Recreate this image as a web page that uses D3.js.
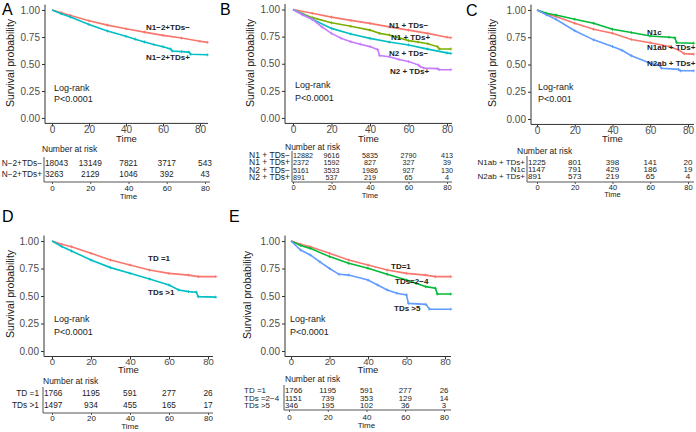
<!DOCTYPE html>
<html><head><meta charset="utf-8">
<script src="https://cdn.jsdelivr.net/npm/d3@7"></script>
<style>
body{margin:0;background:#fff}
text{font-family:"Liberation Sans",Arial,Helvetica,sans-serif}
</style>
</head><body>
<svg id="c" width="696" height="432"></svg>
<script>
// ---------------- DATA ----------------
const xTicks = [0, 20, 40, 60, 80];
const yTicks = [0, 0.25, 0.5, 0.75, 1];
const riskTimes = [0, 20, 40, 60, 80];

// Panel A
const aCurveNames = ["N1−2+TDs−", "N1−2+TDs+"];
const aTableNames = ["N−2+TDs−", "N−2+TDs+"];
const aNeg = [[0,1],[5,0.975],[10,0.95],[20,0.9],[30,0.86],[40,0.826],[50,0.795],[60,0.765],[70,0.74],[80,0.71],[84,0.70]];
const aPos = [[0,1],[5,0.965],[10,0.935],[20,0.866],[30,0.805],[40,0.756],[45,0.73],[50,0.704],[55,0.68],[60,0.66],[64,0.64],[65,0.62],[70,0.615],[74,0.61],[75,0.59],[84,0.585]];
const aRiskNeg = [18043, 13149, 7821, 3717, 543];
const aRiskPos = [3263, 2129, 1046, 392, 43];
const aP = "P<0.0001";

// Panel B
const bCurveNames = ["N1 + TDs−", "N1 + TDs+", "N2 + TDs−", "N2 + TDs+"];
const bTableNames = ["N1 + TDs−", "N1 + TDs+", "N2 + TDs−", "N2 + TDs+"];
const bN1Neg = [[0,1],[10,0.965],[20,0.93],[30,0.9],[40,0.872],[50,0.84],[60,0.81],[70,0.78],[80,0.745],[82,0.74]];
const bN1Pos = [[0,1],[5,0.96],[10,0.925],[20,0.878],[30,0.845],[40,0.81],[45,0.78],[50,0.765],[55,0.74],[60,0.713],[65,0.70],[70,0.685],[75,0.658],[76,0.636],[82,0.636]];
const bN2Neg = [[0,1],[5,0.955],[10,0.91],[20,0.826],[30,0.775],[40,0.734],[50,0.70],[60,0.673],[70,0.635],[80,0.60],[82,0.595]];
const bN2Pos = [[0,1],[5,0.95],[10,0.91],[15,0.84],[20,0.78],[25,0.735],[30,0.703],[35,0.68],[40,0.658],[44,0.63],[45,0.575],[50,0.565],[55,0.54],[60,0.52],[65,0.49],[66,0.475],[68,0.46],[75,0.455],[76,0.445],[82,0.445]];
const bRiskN1Neg = [12882, 9616, 5835, 2790, 413];
const bRiskN1Pos = [2372, 1592, 827, 327, 39];
const bRiskN2Neg = [5161, 3533, 1986, 927, 130];
const bRiskN2Pos = [891, 537, 219, 65, 4];
const bP = "P<0.0001";

// Panel C
const cCurveNames = ["N1ab + TDs+", "N1c", "N2ab + TDs+"];
const cTableNames = ["N1ab + TDs+", "N1c", "N2ab + TDs+"];
const cN1ab = [[0,1],[5,0.96],[10,0.94],[20,0.878],[30,0.823],[40,0.787],[50,0.73],[60,0.70],[70,0.665],[75,0.634],[78,0.60],[83,0.595]];
const cN1c = [[0,1],[5,0.97],[10,0.954],[20,0.915],[30,0.878],[40,0.823],[50,0.793],[60,0.762],[70,0.75],[73,0.745],[74,0.70],[83,0.695]];
const cN2ab = [[0,1],[5,0.955],[10,0.915],[20,0.81],[30,0.726],[40,0.665],[45,0.63],[50,0.58],[60,0.512],[65,0.49],[66,0.466],[75,0.455],[76,0.442],[83,0.442]];
const cRiskN1ab = [1225, 801, 398, 141, 20];
const cRiskN1c = [1147, 791, 429, 186, 19];
const cRiskN2ab = [891, 573, 219, 65, 4];
const cP = "P<0.001";

// Panel D
const dCurveNames = ["TD =1", "TDs >1"];
const dTableNames = ["TD =1", "TDs >1"];
const dTD1 = [[0,1],[5,0.97],[10,0.948],[20,0.888],[30,0.827],[40,0.782],[50,0.736],[60,0.706],[70,0.69],[75,0.676],[84,0.676]];
const dTDgt1 = [[0,1],[5,0.95],[10,0.909],[20,0.827],[30,0.758],[40,0.706],[50,0.655],[60,0.60],[65,0.555],[70,0.54],[74,0.535],[75,0.494],[84,0.49]];
const dRiskTD1 = [1766, 1195, 591, 277, 26];
const dRiskTDgt1 = [1497, 934, 455, 165, 17];
const dP = "P<0.0001";

// Panel E
const eCurveNames = ["TD=1", "TDs=2−4", "TDs >5"];
const eTableNames = ["TD =1", "TDs =2−4", "TDs >5"];
const eTD1 = [[0,1],[5,0.97],[10,0.948],[20,0.888],[30,0.827],[40,0.782],[50,0.736],[60,0.706],[70,0.69],[75,0.676],[83,0.676]];
const eTD24 = [[0,1],[5,0.96],[10,0.933],[20,0.858],[30,0.797],[40,0.752],[50,0.697],[60,0.645],[65,0.615],[70,0.585],[75,0.57],[76,0.518],[83,0.518]];
const eTD5 = [[0,1],[5,0.918],[10,0.873],[15,0.81],[20,0.75],[25,0.697],[30,0.69],[40,0.645],[45,0.60],[50,0.555],[55,0.525],[60,0.51],[61,0.433],[70,0.424],[72,0.38],[83,0.38]];
const eRiskTD1 = [1766, 1195, 591, 277, 26];
const eRiskTD24 = [1151, 739, 353, 129, 14];
const eRiskTD5 = [346, 195, 102, 36, 3];
const eP = "P<0.0001";

// ---------------- STYLE / LAYOUT ----------------
const RED = "#F8766D", CYAN = "#00BFC4", GREEN4 = "#7CAE00", PURPLE = "#C77CFF", GREEN3 = "#00BA38", BLUE = "#619CFF";
const AXIS = "#333333", TXT = "#4D4D4D", DARK = "#1a1a1a";

const svg = d3.select("#c");

function drawPanel(L, series, colors, curveNames, tableNames, risks, pText) {
  const g = svg.append("g");
  g.append("text").attr("x", L.letter[0]).attr("y", L.letter[1]).attr("font-size", 16).attr("fill", "#000").text(L.name);

  const x = d3.scaleLinear().domain([0, 80]).range([L.x0, L.x80]);
  const y = d3.scaleLinear().domain([0, 1]).range([L.y0, L.y1]);
  const top = y(1.05), bottom = y(-0.05);

  const ya = g.append("g").attr("transform", `translate(${L.ax},0)`)
    .call(d3.axisLeft(y).tickValues(yTicks).tickFormat(d3.format(".2f")).tickSize(3).tickPadding(2));
  ya.select(".domain").remove();
  ya.selectAll("line").attr("stroke", AXIS);
  ya.selectAll("text").attr("font-size", 10).attr("fill", TXT).attr("font-family", "Liberation Sans, Arial, sans-serif");
  g.append("line").attr("x1", L.ax).attr("x2", L.ax).attr("y1", top).attr("y2", bottom).attr("stroke", AXIS).attr("stroke-width", 1);

  const xa = g.append("g").attr("transform", `translate(0,${bottom})`)
    .call(d3.axisBottom(x).tickValues(xTicks).tickSize(3));
  xa.select(".domain").remove();
  xa.selectAll("line").attr("stroke", AXIS);
  xa.selectAll("text").attr("font-size", L.xfs).attr("fill", TXT).attr("font-family", "Liberation Sans, Arial, sans-serif")
    .attr("y", L.tickY - bottom).attr("dy", "0.35em");
  g.append("line").attr("x1", L.ax).attr("x2", L.xEnd).attr("y1", bottom).attr("y2", bottom).attr("stroke", AXIS);
  g.append("text").attr("x", (L.ax + L.xEnd) / 2).attr("y", L.timeY).attr("dy", "0.35em").attr("text-anchor", "middle")
    .attr("font-size", 9.5).attr("fill", DARK).text("Time");

  g.append("text").attr("transform", `translate(${L.ylab[0]},${L.ylab[1]}) rotate(-90)`).attr("text-anchor", "middle")
    .attr("dy", "0.35em").attr("font-size", 10.5).attr("fill", DARK).text("Survival probability");

  const line = d3.line().x(d => x(d[0])).y(d => y(d[1]));
  series.forEach((s, i) => {
    g.append("path").attr("d", line(s)).attr("fill", "none").attr("stroke", colors[i]).attr("stroke-width", 1.6);
    g.selectAll(null).data(s.filter(d => d[0] > 0)).enter().append("path")
      .attr("d", d => `M${x(d[0]) - 1.5},${y(d[1])}h3M${x(d[0])},${y(d[1]) - 1.5}v3`)
      .attr("stroke", colors[i]).attr("stroke-width", 0.8);
  });

  curveNames.forEach((n, i) => {
    g.append("text").attr("x", L.labels[i][0]).attr("y", L.labels[i][1]).attr("dy", "0.35em")
      .attr("font-family", "Liberation Sans Narrow, DejaVu Sans Condensed, sans-serif").attr("font-weight", "bold")
      .attr("font-size", 8).attr("fill", "#222").text(n);
  });

  g.append("text").attr("x", L.lr[0]).attr("y", L.lr[1]).attr("dy", "0.35em").attr("font-size", 9).attr("fill", "#222").text("Log-rank");
  g.append("text").attr("x", L.lr[0]).attr("y", L.lr[2]).attr("dy", "0.35em").attr("font-size", 9).attr("fill", "#222").text(pText);

  const T = L.t;
  const xt = d3.scaleLinear().domain([0, 80]).range([T.x0, T.x80]);
  g.append("text").attr("x", T.nr[0]).attr("y", T.nr[1]).attr("dy", "0.35em").attr("font-size", T.nrfs).attr("fill", "#222").text("Number at risk");
  tableNames.forEach((n, i) => {
    g.append("text").attr("x", T.labX).attr("y", T.rows[i]).attr("dy", "0.35em").attr("text-anchor", T.labAnchor)
      .attr("font-size", T.lfs).attr("fill", "#222").text(n);
    risks[i].forEach((v, j) => {
      const first = j === 0;
      g.append("text").attr("x", first ? T.ax + 1 : xt(riskTimes[j])).attr("y", T.rows[i]).attr("dy", "0.35em")
        .attr("text-anchor", first ? "start" : "middle").attr("font-size", T.fs).attr("fill", "#222").text(v);
    });
  });
  g.append("line").attr("x1", T.ax).attr("x2", T.ax).attr("y1", T.axTop).attr("y2", T.axY).attr("stroke", "#555");
  const ta = g.append("g").attr("transform", `translate(0,${T.axY})`).call(d3.axisBottom(xt).tickValues(xTicks).tickSize(2));
  ta.select(".domain").remove();
  ta.selectAll("line").attr("stroke", "#555");
  ta.selectAll("text").attr("font-size", T.tfs).attr("fill", "#222").attr("font-family", "Liberation Sans, Arial, sans-serif")
    .attr("y", T.tickY - T.axY).attr("dy", "0.35em");
  g.append("line").attr("x1", T.ax).attr("x2", T.xEnd).attr("y1", T.axY).attr("y2", T.axY).attr("stroke", "#555");
  g.append("text").attr("x", (T.x0 + T.x80) / 2).attr("y", T.timeY).attr("dy", "0.35em").attr("text-anchor", "middle")
    .attr("font-size", T.tfs).attr("fill", "#222").text("Time");
}

const LA = {name:"A", letter:[2,15], ax:45, y1:10, y0:118, x0:52, x80:200, xEnd:208, tickY:130, xfs:10, timeY:138.5, ylab:[10,63], lr:[54,88,99],
  labels:[[146,27],[146,57]],
  t:{nr:[42,149], rows:[163,174], ax:44, axTop:157, axY:182, x0:52, x80:205, xEnd:210, tickY:188.5, timeY:196.5, fs:8.3, tfs:8, lfs:8.3, nrfs:8.5, labX:42, labAnchor:"end"}};
const LB = {name:"B", letter:[220,15], ax:285, y1:9.5, y0:118, x0:293, x80:447, xEnd:452, tickY:130, xfs:10, timeY:138.5, ylab:[250,63], lr:[295,85,98],
  labels:[[389,25],[391,37],[389,53],[390,71]],
  t:{nr:[285,147], rows:[155,162.3,170,177.3], ax:292, axTop:151, axY:182, x0:293, x80:447, xEnd:452, tickY:187.5, timeY:195, fs:7.2, tfs:7.5, lfs:8.5, nrfs:8.5, labX:290, labAnchor:"end"}};
const LC = {name:"C", letter:[466,16], ax:531, y1:10, y0:119, x0:537, x80:688, xEnd:694, tickY:131, xfs:10, timeY:139, ylab:[492,63], lr:[538,87,99],
  labels:[[647,47],[647,32],[647,63]],
  t:{nr:[517,151], rows:[162,169,176], ax:527, axTop:156, axY:182, x0:537, x80:688, xEnd:694, tickY:187, timeY:194, fs:8, tfs:7.5, lfs:8, nrfs:8.5, labX:525, labAnchor:"end"}};
const LD = {name:"D", letter:[2,222], ax:44, y1:241, y0:351, x0:52, x80:208, xEnd:213, tickY:361.5, xfs:9.5, timeY:370, ylab:[10,294], lr:[54,319,332],
  labels:[[148,258],[148,292]],
  t:{nr:[43,381], rows:[393,405], ax:43, axTop:387, axY:413, x0:52, x80:208, xEnd:213, tickY:418.5, timeY:426, fs:8.3, tfs:8, lfs:8.3, nrfs:8.5, labX:39, labAnchor:"end"}};
const LE = {name:"E", letter:[229,222], ax:285, y1:241, y0:351, x0:291, x80:445, xEnd:451, tickY:361.5, xfs:9.5, timeY:370, ylab:[247,295], lr:[290,319,332],
  labels:[[391,266],[395,281],[394,308]],
  t:{nr:[285,379], rows:[390.5,398,405.3], ax:284, axTop:385, axY:410, x0:289, x80:444, xEnd:451, tickY:417.5, timeY:425.5, fs:7.8, tfs:8, lfs:8, nrfs:8.5, labX:244, labAnchor:"start"}};

drawPanel(LA, [aNeg, aPos], [RED, CYAN], aCurveNames, aTableNames, [aRiskNeg, aRiskPos], aP);
drawPanel(LB, [bN1Neg, bN1Pos, bN2Neg, bN2Pos], [RED, GREEN4, CYAN, PURPLE], bCurveNames, bTableNames,
  [bRiskN1Neg, bRiskN1Pos, bRiskN2Neg, bRiskN2Pos], bP);
drawPanel(LC, [cN1ab, cN1c, cN2ab], [RED, GREEN3, BLUE], cCurveNames, cTableNames, [cRiskN1ab, cRiskN1c, cRiskN2ab], cP);
drawPanel(LD, [dTD1, dTDgt1], [RED, CYAN], dCurveNames, dTableNames, [dRiskTD1, dRiskTDgt1], dP);
drawPanel(LE, [eTD1, eTD24, eTD5], [RED, GREEN3, BLUE], eCurveNames, eTableNames, [eRiskTD1, eRiskTD24, eRiskTD5], eP);
</script>
</body></html>
